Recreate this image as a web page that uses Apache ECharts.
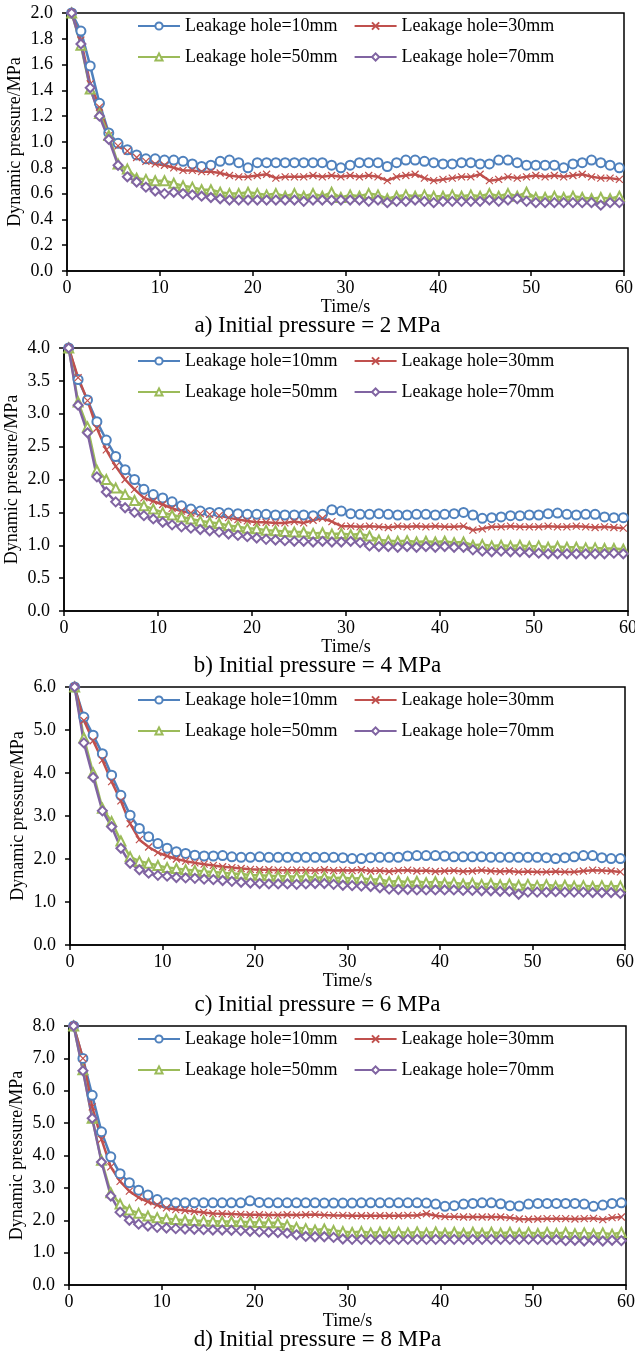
<!DOCTYPE html>
<html>
<head>
<meta charset="utf-8">
<script src="https://cdn.jsdelivr.net/npm/echarts@6/dist/echarts.min.js"></script>
<style>
html,body{margin:0;padding:0;background:#fff;}
#chart{width:635px;height:1355px;}
</style>
</head>
<body>
<div id="chart"></div>
<script>
// Time axis (s)
const time = [0.5,1.5,2.5,3.5,4.5,5.5,6.5,7.5,8.5,9.5,
10.5,11.5,12.5,13.5,14.5,15.5,16.5,17.5,18.5,19.5,
20.5,21.5,22.5,23.5,24.5,25.5,26.5,27.5,28.5,29.5,
30.5,31.5,32.5,33.5,34.5,35.5,36.5,37.5,38.5,39.5,
40.5,41.5,42.5,43.5,44.5,45.5,46.5,47.5,48.5,49.5,
50.5,51.5,52.5,53.5,54.5,55.5,56.5,57.5,58.5,59.5];

const seriesNames = ['Leakage hole=10mm','Leakage hole=30mm','Leakage hole=50mm','Leakage hole=70mm'];
const captions = ['a) Initial pressure = 2 MPa','b) Initial pressure = 4 MPa','c) Initial pressure = 6 MPa','d) Initial pressure = 8 MPa'];
const xTicks = [0,10,20,30,40,50,60];

// a) Initial pressure = 2 MPa
const a10 = [2.00,1.86,1.59,1.30,1.07,0.99,0.94,0.90,0.87,0.87,
0.86,0.86,0.85,0.83,0.81,0.82,0.85,0.86,0.84,0.80,
0.84,0.84,0.84,0.84,0.84,
0.84,0.84,0.84,0.82,0.80,0.82,0.84,0.84,0.84,0.81,
0.84,0.86,0.86,0.85,0.84,0.83,0.83,0.84,0.84,0.83,
0.83,0.86,0.86,0.84,0.82,0.82,0.82,0.82,0.80,0.83,
0.84,0.86,0.84,0.82,0.80];
const a30 = [2.00,1.79,1.45,1.27,1.05,0.97,0.93,0.88,0.85,0.83,
0.82,0.80,0.78,0.78,0.77,0.77,0.76,0.74,0.73,0.73,
0.74,0.75,0.72,0.73,0.73,
0.73,0.74,0.73,0.74,0.73,0.74,0.73,0.74,0.73,0.70,
0.73,0.74,0.75,0.72,0.70,0.71,0.72,0.73,0.73,0.75,
0.70,0.71,0.73,0.72,0.73,0.74,0.73,0.74,0.73,0.74,
0.75,0.73,0.72,0.72,0.71];
const a50 = [2.00,1.75,1.41,1.22,1.05,0.83,0.79,0.72,0.71,0.70,
0.70,0.68,0.66,0.65,0.63,0.63,0.61,0.60,0.60,0.61,
0.60,0.59,0.60,0.58,0.60,
0.58,0.60,0.58,0.61,0.57,0.59,0.58,0.60,0.59,0.56,
0.58,0.59,0.58,0.59,0.58,0.58,0.59,0.58,0.59,0.58,
0.60,0.58,0.60,0.58,0.61,0.57,0.57,0.58,0.57,0.58,
0.57,0.56,0.57,0.56,0.58];
const a70 = [2.00,1.76,1.42,1.20,1.02,0.82,0.73,0.69,0.65,0.62,
0.60,0.61,0.60,0.59,0.58,0.57,0.56,0.55,0.55,0.55,
0.55,0.55,0.55,0.55,0.55,
0.54,0.55,0.55,0.55,0.55,0.55,0.55,0.54,0.55,0.53,
0.54,0.54,0.55,0.54,0.53,0.54,0.54,0.54,0.54,0.54,
0.55,0.54,0.55,0.56,0.54,0.53,0.53,0.53,0.53,0.53,
0.53,0.53,0.51,0.53,0.53];

// b) Initial pressure = 4 MPa
const b10 = [4.00,3.52,3.21,2.88,2.60,2.35,2.15,2.00,1.85,1.77,
1.72,1.66,1.60,1.55,1.52,1.50,1.50,1.49,1.48,1.47,
1.47,1.47,1.46,1.46,1.46,
1.46,1.45,1.47,1.54,1.52,1.48,1.47,1.47,1.48,1.47,
1.46,1.46,1.47,1.47,1.46,1.47,1.48,1.50,1.46,1.41,
1.42,1.43,1.45,1.45,1.46,1.46,1.48,1.49,1.47,1.46,
1.47,1.47,1.43,1.42,1.42];
const b30 = [4.00,3.55,3.20,2.78,2.45,2.20,2.00,1.85,1.72,1.67,
1.62,1.56,1.52,1.49,1.48,1.47,1.45,1.42,1.39,1.37,
1.35,1.35,1.34,1.34,1.36,
1.34,1.38,1.41,1.36,1.29,1.29,1.28,1.29,1.28,1.27,
1.29,1.28,1.29,1.28,1.29,1.28,1.28,1.29,1.23,1.25,
1.28,1.28,1.29,1.28,1.28,1.28,1.29,1.28,1.28,1.29,
1.28,1.27,1.28,1.27,1.26];
const b50 = [4.00,3.18,2.80,2.14,2.00,1.87,1.77,1.68,1.60,1.55,
1.50,1.46,1.43,1.40,1.37,1.35,1.33,1.30,1.28,1.26,
1.25,1.23,1.22,1.21,1.20,
1.20,1.18,1.19,1.17,1.18,1.16,1.17,1.14,1.08,1.07,
1.06,1.07,1.05,1.06,1.05,1.06,1.04,1.05,1.00,1.01,
0.99,1.00,0.99,1.00,0.98,0.99,0.97,0.98,0.97,0.97,
0.96,0.96,0.95,0.95,0.94];
const b70 = [4.00,3.13,2.71,2.04,1.81,1.66,1.57,1.50,1.45,1.40,
1.35,1.31,1.28,1.26,1.24,1.22,1.20,1.17,1.15,1.13,
1.11,1.09,1.08,1.07,1.06,
1.06,1.05,1.06,1.05,1.05,1.06,1.04,0.99,0.98,0.98,
0.97,0.98,0.97,0.98,0.97,0.98,0.97,0.97,0.93,0.91,
0.90,0.91,0.90,0.90,0.89,0.88,0.87,0.87,0.87,0.87,
0.87,0.87,0.87,0.88,0.87];

// c) Initial pressure = 6 MPa
const c10 = [6.00,5.30,4.88,4.45,3.95,3.48,3.02,2.71,2.52,2.36,
2.25,2.17,2.13,2.09,2.07,2.07,2.08,2.05,2.04,2.04,
2.05,2.04,2.04,2.04,2.04,
2.04,2.04,2.04,2.04,2.03,2.01,2.01,2.03,2.04,2.04,
2.04,2.07,2.08,2.08,2.08,2.07,2.05,2.05,2.05,2.05,
2.04,2.04,2.04,2.04,2.04,2.04,2.03,2.01,2.03,2.05,
2.08,2.08,2.03,2.01,2.01];
const c30 = [6.00,5.22,4.75,4.30,3.80,3.35,2.82,2.45,2.28,2.15,
2.07,2.00,1.95,1.91,1.88,1.85,1.82,1.80,1.78,1.76,
1.75,1.75,1.74,1.74,1.74,
1.74,1.73,1.75,1.73,1.74,1.73,1.75,1.72,1.73,1.71,
1.73,1.74,1.72,1.73,1.71,1.72,1.73,1.71,1.72,1.74,
1.72,1.71,1.72,1.70,1.71,1.70,1.70,1.71,1.70,1.70,
1.72,1.74,1.73,1.72,1.70];
const c50 = [6.00,4.82,4.00,3.18,2.87,2.42,2.05,1.95,1.90,1.85,
1.80,1.78,1.75,1.73,1.71,1.70,1.68,1.66,1.65,1.63,
1.62,1.61,1.60,1.60,1.59,
1.60,1.56,1.58,1.55,1.57,1.54,1.56,1.52,1.53,1.47,
1.49,1.46,1.48,1.45,1.47,1.44,1.45,1.42,1.44,1.41,
1.43,1.40,1.42,1.39,1.41,1.38,1.40,1.37,1.39,1.37,
1.38,1.36,1.38,1.36,1.37];
const c70 = [6.00,4.70,3.90,3.12,2.75,2.25,1.90,1.75,1.67,1.62,
1.60,1.57,1.56,1.55,1.53,1.52,1.50,1.48,1.46,1.44,
1.43,1.42,1.42,1.42,1.41,
1.42,1.43,1.43,1.41,1.39,1.38,1.37,1.36,1.33,1.30,
1.29,1.29,1.28,1.28,1.28,1.28,1.28,1.27,1.27,1.26,
1.26,1.25,1.25,1.18,1.23,1.23,1.23,1.24,1.23,1.23,
1.23,1.22,1.22,1.22,1.20];

// d) Initial pressure = 8 MPa
const d10 = [8.00,7.00,5.86,4.73,3.96,3.44,3.16,2.93,2.78,2.64,
2.54,2.54,2.54,2.54,2.54,2.54,2.54,2.54,2.54,2.60,
2.55,2.54,2.54,2.54,2.54,
2.54,2.54,2.53,2.53,2.53,2.53,2.54,2.54,2.54,2.54,
2.54,2.54,2.54,2.53,2.50,2.43,2.45,2.50,2.52,2.54,
2.54,2.51,2.45,2.44,2.50,2.52,2.52,2.52,2.52,2.52,
2.50,2.43,2.47,2.52,2.54];
const d30 = [8.00,7.00,5.50,4.50,3.65,3.20,2.90,2.70,2.57,2.47,
2.38,2.33,2.30,2.27,2.24,2.21,2.20,2.19,2.18,2.17,
2.17,2.16,2.16,2.17,2.16,
2.17,2.18,2.16,2.15,2.15,2.14,2.14,2.14,2.14,2.14,
2.14,2.15,2.15,2.20,2.14,2.11,2.11,2.10,2.10,2.10,
2.10,2.10,2.08,2.04,2.03,2.04,2.05,2.05,2.05,2.04,
2.05,2.06,2.02,2.08,2.10];
const d50 = [8.00,6.65,5.15,3.85,2.85,2.50,2.32,2.22,2.13,2.08,
2.05,2.02,2.00,1.99,1.98,1.97,1.96,1.96,1.95,1.94,
1.93,1.92,1.92,1.85,1.78,
1.74,1.70,1.73,1.68,1.65,1.62,1.65,1.61,1.64,1.61,
1.64,1.61,1.64,1.61,1.64,1.60,1.63,1.60,1.63,1.60,
1.63,1.60,1.63,1.60,1.62,1.59,1.62,1.59,1.62,1.58,
1.61,1.58,1.61,1.57,1.62];
const d70 = [8.00,6.62,5.15,3.80,2.75,2.25,2.00,1.88,1.82,1.78,
1.76,1.74,1.73,1.72,1.71,1.70,1.70,1.69,1.68,1.66,
1.64,1.63,1.62,1.60,1.55,
1.50,1.49,1.49,1.47,1.42,1.41,1.41,1.41,1.41,1.41,
1.41,1.41,1.41,1.41,1.41,1.41,1.41,1.41,1.41,1.41,
1.41,1.41,1.41,1.41,1.41,1.41,1.40,1.40,1.37,1.38,
1.36,1.39,1.36,1.38,1.37];

const yMaxes = [2, 4, 6, 8];
const yIntervals = [0.2, 0.5, 1, 1];

const panelData = [[a10,a30,a50,a70],[b10,b30,b50,b70],[c10,c30,c50,c70],[d10,d30,d50,d70]];

// layout (pixels)
const grids = [
  {left:67, top:13,   width:557, height:258},
  {left:64, top:348,  width:564, height:263},
  {left:70, top:687,  width:555, height:258},
  {left:69, top:1026, width:557, height:259}
];
const captionTops = [314, 654, 993, 1328];

const colors = ['#4F81BD','#C0504D','#9BBB59','#8064A2'];
const symbols = ['emptyCircle','path://M0,0L10,10M10,0L0,10','emptyTriangle','emptyDiamond'];
const symbolSizes = [9, 7, 9, 9];
const FONT = '"Liberation Serif","Times New Roman",serif';

const option = {
  animation:false,
  backgroundColor:'#fff',
  textStyle:{fontFamily:FONT, color:'#000'},
  title:[], grid:[], xAxis:[], yAxis:[], legend:[], series:[]
};

for (let p = 0; p < 4; p++) {
  const g = grids[p];
  option.grid.push({left:g.left, top:g.top, width:g.width, height:g.height,
    show:true, borderColor:'#000', borderWidth:1.5, backgroundColor:'transparent',
    containLabel:false, outerBoundsMode:'none'});
  option.title.push({text:captions[p], left:'center', top:captionTops[p], padding:0,
    textStyle:{fontFamily:FONT, fontSize:23, fontWeight:'normal', color:'#000'}});
  option.xAxis.push({type:'value', gridIndex:p, min:xTicks[0], max:xTicks[xTicks.length-1], interval:10,
    name:'Time/s', nameLocation:'middle', nameGap:27, nameMoveOverlap:false,
    nameTextStyle:{fontFamily:FONT, fontSize:18, color:'#000'},
    axisLine:{show:true, onZero:false, lineStyle:{color:'#000', width:1.5}},
    axisTick:{show:true, inside:false, length:5, lineStyle:{color:'#000', width:1.5}},
    axisLabel:{fontFamily:FONT, fontSize:18, color:'#000', margin:8},
    splitLine:{show:false}});
  option.yAxis.push({type:'value', gridIndex:p, min:0, max:yMaxes[p], interval:yIntervals[p],
    name:'Dynamic pressure/MPa', nameLocation:'middle', nameGap:43, nameMoveOverlap:false,
    nameTextStyle:{fontFamily:FONT, fontSize:18, color:'#000'},
    axisLine:{show:true, onZero:false, lineStyle:{color:'#000', width:1.5}},
    axisTick:{show:true, inside:false, length:5, lineStyle:{color:'#000', width:1.5}},
    axisLabel:{fontFamily:FONT, fontSize:18, color:'#000', margin:14, formatter:v=>v.toFixed(1)},
    splitLine:{show:false}});
  const legendBase = {left:137, itemWidth:42, itemHeight:9, itemGap:16, padding:0, orient:'horizontal',
    selectedMode:false, textStyle:{fontFamily:FONT, fontSize:18, color:'#000'}};
  option.legend.push(Object.assign({}, legendBase, {top:g.top + 4, data:[seriesNames[0], seriesNames[1]]}));
  option.legend.push(Object.assign({}, legendBase, {top:g.top + 35, data:[seriesNames[2], seriesNames[3]]}));
  for (let s = 0; s < 4; s++) {
    const vals = panelData[p][s];
    option.series.push({
      type:'line', name:seriesNames[s], xAxisIndex:p, yAxisIndex:p,
      data: time.map((t,i)=>[t, vals[i]]),
      symbol:symbols[s], symbolSize:symbolSizes[s], showAllSymbol:true,
      lineStyle:{color:colors[s], width:2.5},
      itemStyle:{color:colors[s], borderColor:colors[s], borderWidth:1.2},
      emphasis:{disabled:true}
    });
  }
}

const chart = echarts.init(document.getElementById('chart'), null, {renderer:'canvas'});
chart.setOption(option);
</script>
</body>
</html>
